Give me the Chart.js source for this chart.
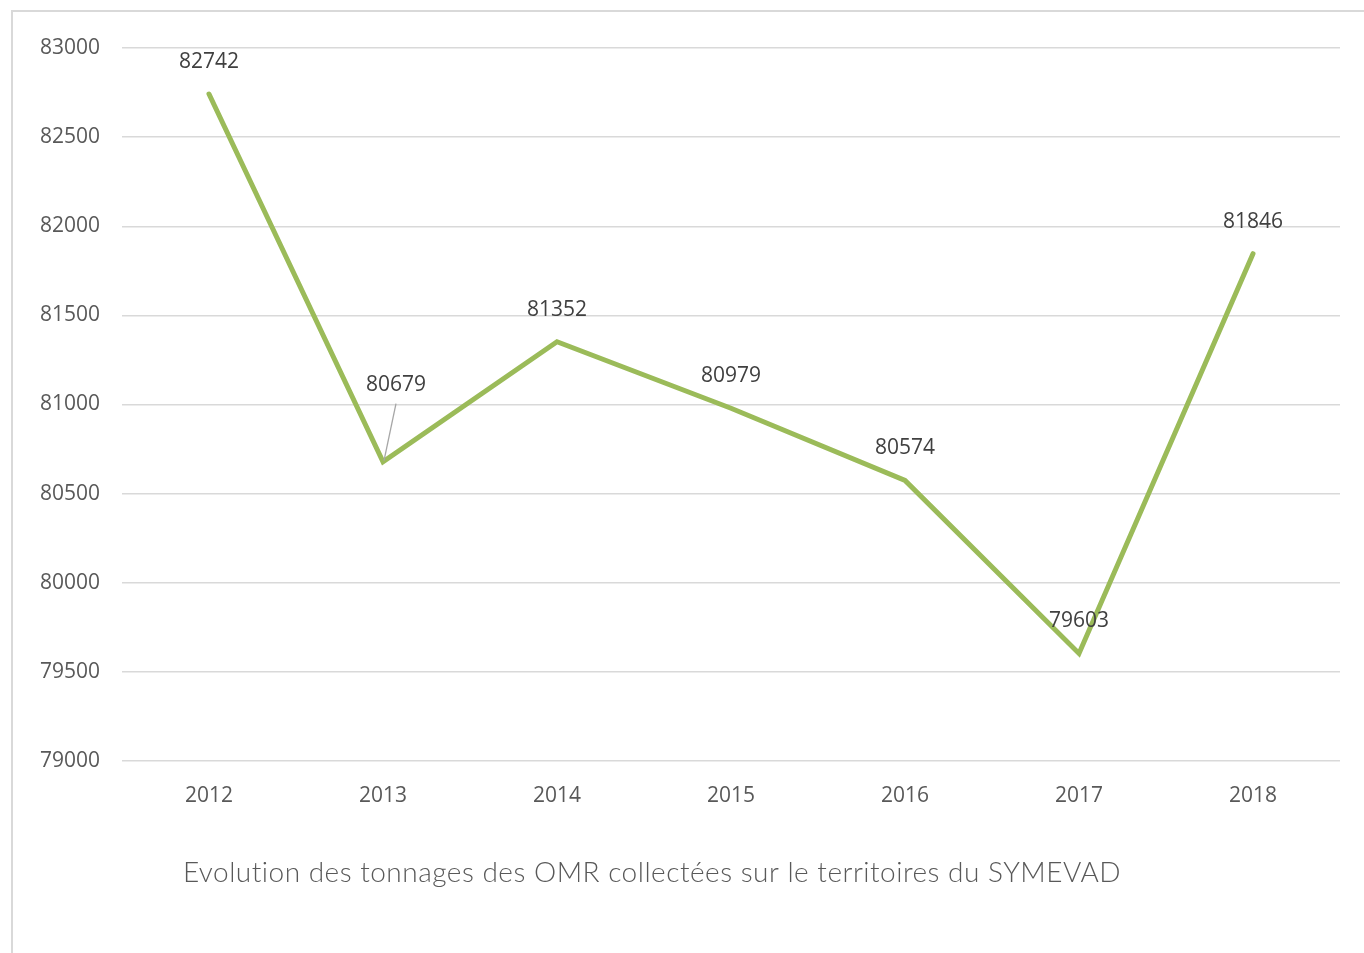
<!DOCTYPE html>
<html>
<head>
<meta charset="utf-8">
<script src="https://cdn.jsdelivr.net/npm/chart.js@4"></script>
<style>
    body { margin: 0; background: #fff; }
    #wrap { position: relative; width: 1364px; height: 953px; overflow: hidden; }
    #frame { position: absolute; left: 11px; top: 10px; width: 1400px; height: 1000px;
             border-left: 2px solid #d9d9d9; border-top: 2px solid #d9d9d9; }
    #chart { position: absolute; left: 0; top: 0; }
</style>
</head>
<body>
<div id="wrap">
    <div id="frame"></div>
    <canvas id="chart" width="1364" height="953"></canvas>
</div>
<script>
const years = ['2012', '2013', '2014', '2015', '2016', '2017', '2018'];
const tonnages = [82742, 80679, 81352, 80979, 80574, 79603, 81846];
const yTicks = [79000, 79500, 80000, 80500, 81000, 81500, 82000, 82500, 83000];
const chartTitle = 'Evolution des tonnages des OMR collectées sur le territoires du SYMEVAD';

// data labels drawn above each point, 2013 one is moved with a leader line
const valueLabels = {
    id: 'valueLabels',
    afterDatasetsDraw(chart) {
        const ctx = chart.ctx;
        const meta = chart.getDatasetMeta(0);
        ctx.save();
        ctx.font = '21px "Open Sans", sans-serif';
        ctx.fillStyle = '#404040';
        ctx.textAlign = 'center';
        ctx.textBaseline = 'middle';
        meta.data.forEach(function(pt, i) {
            let lx = pt.x;
            let ly = pt.y - 32;
            if (i === 1) {
                lx = pt.x + 13;
                ly = pt.y - 77;
                ctx.strokeStyle = '#a6a6a6';
                ctx.lineWidth = 1.3;
                ctx.beginPath();
                ctx.moveTo(lx, ly + 19);
                ctx.lineTo(pt.x + 1, pt.y - 1);
                ctx.stroke();
            }
            ctx.fillText(String(tonnages[i]), lx, ly);
        });
        ctx.restore();
    }
};

const bottomTitle = {
    id: 'bottomTitle',
    afterDraw(chart) {
        const ctx = chart.ctx;
        ctx.save();
        ctx.font = '300 28px Lato, "Open Sans", sans-serif';
        ctx.letterSpacing = '0.5px';
        ctx.fillStyle = '#595959';
        ctx.textAlign = 'center';
        ctx.textBaseline = 'middle';
        ctx.fillText(chartTitle, 652, 873);
        ctx.restore();
    }
};

new Chart(document.getElementById('chart'), {
    type: 'line',
    data: {
        labels: years,
        datasets: [{
            data: tonnages,
            borderColor: '#9bbb59',
            borderWidth: 5,
            borderCapStyle: 'round',
            borderJoinStyle: 'miter',
            pointRadius: 0,
            tension: 0,
            fill: false
        }]
    },
    options: {
        responsive: false,
        animation: false,
        layout: { padding: { top: 48, right: 24, left: 0, bottom: 0 } },
        plugins: {
            legend: { display: false },
            tooltip: { enabled: false }
        },
        scales: {
            x: {
                offset: true,
                grid: { display: false },
                border: { display: false },
                ticks: {
                    color: '#595959',
                    font: { family: '"Open Sans", sans-serif', size: 21 },
                    padding: 14,
                    maxRotation: 0
                },
                afterFit(scale) { scale.height = 192; }
            },
            y: {
                min: 79000,
                max: 83000,
                afterBuildTicks(scale) { scale.ticks = yTicks.map(v => ({ value: v })); },
                grid: { color: '#d9d9d9', lineWidth: 1.5, drawTicks: false },
                border: { display: false },
                ticks: {
                    color: '#595959',
                    font: { family: '"Open Sans", sans-serif', size: 21 },
                    padding: 22,
                    callback: v => String(v)
                },
                afterFit(scale) { scale.width = 122; }
            }
        }
    },
    plugins: [valueLabels, bottomTitle]
});
</script>
</body>
</html>
